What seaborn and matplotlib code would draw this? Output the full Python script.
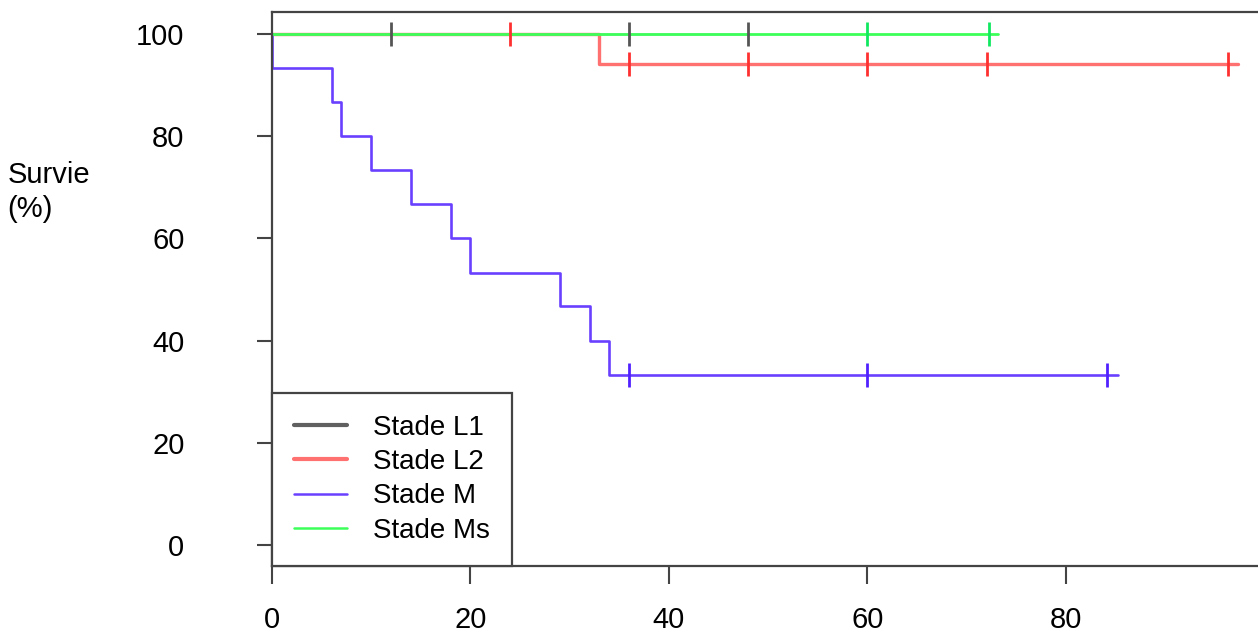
import matplotlib
matplotlib.use("Agg")
import matplotlib.pyplot as plt
import numpy as np
import pandas as pd
import seaborn as sns

# Kaplan-Meier steps (time in months, survival in %)
groups = ["Stade L1", "Stade L2", "Stade M", "Stade Ms"]

l1_time = [0, 48]
l1_surv = [100, 100]
l1_cens_time = [12, 36, 48]
l1_cens_surv = [100, 100, 100]

l2_time = [0, 33, 97.3]
l2_surv = [100, 94.1, 94.1]
l2_cens_time = [24, 36, 48, 60, 72, 96.3]
l2_cens_surv = [100, 94.1, 94.1, 94.1, 94.1, 94.1]

m_time = [0, 0, 6, 7, 10, 14, 18, 20, 29, 32, 34, 85.2]
m_surv = [100, 93.3, 86.7, 80, 73.3, 66.7, 60, 53.3, 46.7, 40, 33.3, 33.3]
m_cens_time = [36, 60, 84.1]
m_cens_surv = [33.3, 33.3, 33.3]

ms_time = [0, 73.2]
ms_surv = [100, 100]
ms_cens_time = [60, 72.2]
ms_cens_surv = [100, 100]

colors = {"Stade L1": "#606060", "Stade L2": "#ff7070",
          "Stade M": "#6a40ff", "Stade Ms": "#3cff5a"}
tick_colors = {"Stade L1": "#555555", "Stade L2": "#ff3030",
               "Stade M": "#5020ff", "Stade Ms": "#10e860"}

curves = pd.concat([
    pd.DataFrame({"time": l1_time, "surv": l1_surv, "group": "Stade L1"}),
    pd.DataFrame({"time": l2_time, "surv": l2_surv, "group": "Stade L2"}),
    pd.DataFrame({"time": m_time, "surv": m_surv, "group": "Stade M"}),
    pd.DataFrame({"time": ms_time, "surv": ms_surv, "group": "Stade Ms"}),
], ignore_index=True)

censors = pd.concat([
    pd.DataFrame({"time": l1_cens_time, "surv": l1_cens_surv, "group": "Stade L1"}),
    pd.DataFrame({"time": l2_cens_time, "surv": l2_cens_surv, "group": "Stade L2"}),
    pd.DataFrame({"time": m_cens_time, "surv": m_cens_surv, "group": "Stade M"}),
    pd.DataFrame({"time": ms_cens_time, "surv": ms_cens_surv, "group": "Stade Ms"}),
], ignore_index=True)

sns.set_style("white")
plt.rcParams["font.family"] = ["Liberation Sans", "DejaVu Sans"]
plt.rcParams["text.color"] = "black"
plt.rcParams["xtick.labelcolor"] = "black"
plt.rcParams["ytick.labelcolor"] = "black"

fig = plt.figure(figsize=(12.58, 6.34), dpi=100)
ax = fig.add_axes([0.2162, 0.1073, 0.7838, 0.8738])

lw = {"Stade L1": 1.0, "Stade L2": 2.4, "Stade M": 1.9, "Stade Ms": 2.0}
for g in groups:
    sub = curves[curves["group"] == g]
    sns.lineplot(data=sub, x="time", y="surv", ax=ax, color=colors[g],
                 estimator=None, sort=False, drawstyle="steps-post",
                 linewidth=lw[g], label=g)

for g in groups:
    sub = censors[censors["group"] == g]
    sns.scatterplot(data=sub, x="time", y="surv", ax=ax, marker="|",
                    s=300, linewidth=2, color=tick_colors[g], legend=False,
                    zorder=3)

ax.set_xlim(0, 99.35)
ax.set_ylim(-4.1, 104.3)
ax.set_xticks([0, 20, 40, 60, 80])
ax.set_yticks([0, 20, 40, 60, 80, 100])
ax.set_xlabel("")
ax.set_ylabel("")

edge = "#444444"
for side in ["top", "left", "bottom"]:
    ax.spines[side].set_color(edge)
    ax.spines[side].set_linewidth(1.6)
ax.spines["right"].set_visible(False)

ax.tick_params(axis="y", direction="out", length=11, width=1.5, color=edge,
               pad=52, labelsize=21, left=True)
ax.tick_params(axis="x", direction="out", length=13, width=1.5, color=edge,
               pad=16, labelsize=21, bottom=True)

leg = ax.legend(loc="lower left", bbox_to_anchor=(0, 0), borderaxespad=0,
                fontsize=20, frameon=True, fancybox=False, handlelength=1.9,
                handletextpad=0.95, borderpad=0.8, labelspacing=0.3)
leg.get_frame().set_edgecolor(edge)
leg.get_frame().set_linewidth(1.6)
leg.get_frame().set_alpha(1)
for t in leg.get_texts():
    t.set_color("black")
for line, w in zip(leg.get_lines(), [3.0, 3.0, 1.8, 1.8]):
    line.set_linewidth(w)

fig.text(0.006, 0.697, "Survie\n(%)", fontsize=21, ha="left", va="center",
         linespacing=1.25)

fig.savefig("out.png", dpi=100)
